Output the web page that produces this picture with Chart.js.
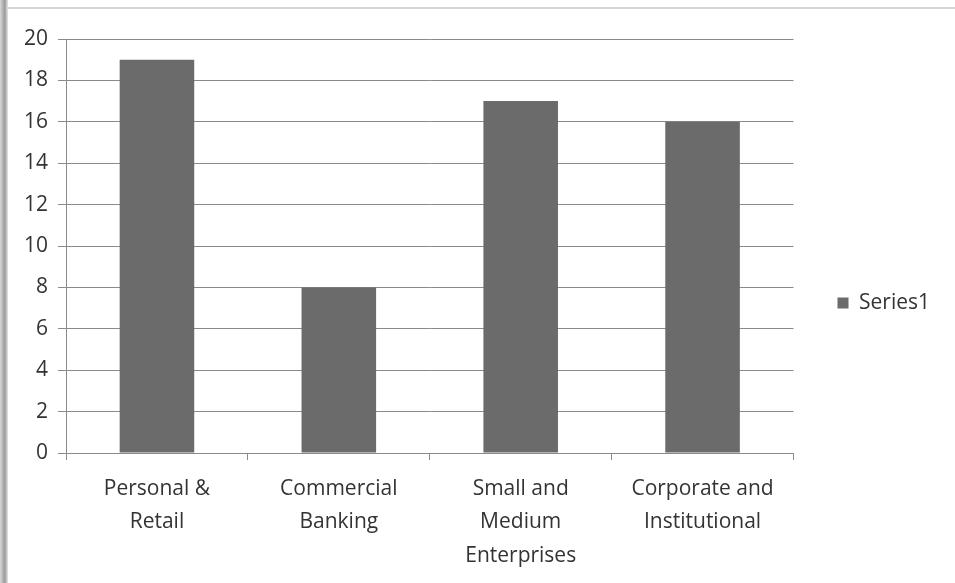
<!DOCTYPE html>
<html>
<head>
<meta charset="utf-8">
<script src="https://cdn.jsdelivr.net/npm/chart.js@4"></script>
<style>
  html, body { margin: 0; padding: 0; background: #fff; }
  #wrap { position: relative; width: 955px; height: 583px; }
  #frameLeft { position: absolute; left: 0; top: 0; width: 8px; height: 583px;
    background: linear-gradient(to right, #d8d8d8, #9a9a9a 60%, #e6e6e6); }
  #frameTop { position: absolute; left: 6px; top: 7px; width: 949px; height: 2px; background: #d6d6d6; }
  canvas { position: absolute; left: 0; top: 0; }
</style>
</head>
<body>
<div id="wrap">
  <canvas id="chart" width="955" height="583"></canvas>
  <div id="frameLeft"></div>
  <div id="frameTop"></div>
</div>
<script>
const categories = [
  ["Personal &", "Retail"],
  ["Commercial", "Banking"],
  ["Small and", "Medium", "Enterprises"],
  ["Corporate and", "Institutional"]
];
const seriesName = "Series1";
const seriesValues = [19, 8, 17, 16];

const textFont = "'Open Sans', 'Liberation Sans', sans-serif";

new Chart(document.getElementById("chart"), {
  type: "bar",
  data: {
    labels: categories,
    datasets: [{
      label: seriesName,
      data: seriesValues,
      backgroundColor: "#6b6b6b",
      borderWidth: 0,
      categoryPercentage: 0.82,
      barPercentage: 0.5
    }]
  },
  options: {
    responsive: false,
    animation: false,
    layout: { padding: { left: 14, top: 39, right: 15, bottom: 16 } },
    plugins: {
      tooltip: { enabled: false },
      legend: {
        position: "right",
        fullSize: true,
        labels: {
          color: "#333",
          font: { family: textFont, size: 21 },
          boxWidth: 11,
          boxHeight: 11,
          padding: 44
        }
      }
    },
    scales: {
      x: {
        // fixed band for the three-line category labels
        afterFit(scale) { scale.height = 114; },
        grid: {
          display: true,
          drawOnChartArea: false,
          drawTicks: true,
          tickLength: 7,
          color: "#8a8a8a",
          offset: true
        },
        border: { display: true, color: "#8a8a8a", width: 1 },
        ticks: {
          color: "#333",
          font: { family: textFont, size: 21, lineHeight: 1.6 },
          maxRotation: 0,
          padding: 12
        }
      },
      y: {
        min: 0,
        max: 20,
        ticks: {
          stepSize: 2,
          color: "#333",
          font: { family: textFont, size: 21 },
          padding: 10
        },
        grid: {
          color: "#8a8a8a",
          tickLength: 8
        },
        border: { display: true, color: "#8a8a8a", width: 1 }
      }
    }
  }
});
</script>
</body>
</html>
